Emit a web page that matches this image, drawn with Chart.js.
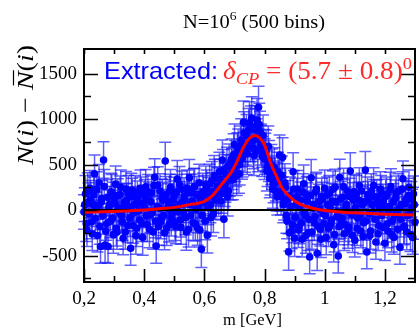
<!DOCTYPE html>
<html>
<head>
<meta charset="utf-8">
<script src="https://cdn.jsdelivr.net/npm/chart.js@4.4.0/dist/chart.umd.min.js"></script>
<style>
  html, body { margin:0; padding:0; background:#fff; }
  #wrap { width:419px; height:328px; }
</style>
</head>
<body>
<div id="wrap"><canvas id="chart"></canvas></div>
<script>
// ─── Data ────────────────────────────────────────────────────────────────────
// even bins
const massBins = [
  0.200,0.205,0.210,0.215,0.220,0.225,0.230,0.235,0.240,0.245,
  0.250,0.255,0.260,0.265,0.270,0.275,0.280,0.285,0.290,0.295,
  0.300,0.305,0.310,0.315,0.320,0.325,0.330,0.335,0.340,0.345,
  0.350,0.355,0.360,0.365,0.370,0.375,0.380,0.385,0.390,0.395,
  0.400,0.405,0.410,0.415,0.420,0.425,0.430,0.435,0.440,0.445,
  0.450,0.455,0.460,0.465,0.470,0.475,0.480,0.485,0.490,0.495,
  0.500,0.505,0.510,0.515,0.520,0.525,0.530,0.535,0.540,0.545,
  0.550,0.555,0.560,0.565,0.570,0.575,0.580,0.585,0.590,0.595,
  0.600,0.605,0.610,0.615,0.620,0.625,0.630,0.635,0.640,0.645,
  0.650,0.655,0.660,0.665,0.670,0.675,0.680,0.685,0.690,0.695,
  0.700,0.705,0.710,0.715,0.720,0.725,0.730,0.735,0.740,0.745,
  0.750,0.755,0.760,0.765,0.770,0.775,0.780,0.785,0.790,0.795,
  0.800,0.805,0.810,0.815,0.820,0.825,0.830,0.835,0.840,0.845,
  0.850,0.855,0.860,0.865,0.870,0.875,0.880,0.885,0.890,0.895,
  0.900,0.905,0.910,0.915,0.920,0.925,0.930,0.935,0.940,0.945,
  0.950,0.955,0.960,0.965,0.970,0.975,0.980,0.985,0.990,0.995,
  1.000,1.005,1.010,1.015,1.020,1.025,1.030,1.035,1.040,1.045,
  1.050,1.055,1.060,1.065,1.070,1.075,1.080,1.085,1.090,1.095,
  1.100,1.105,1.110,1.115,1.120,1.125,1.130,1.135,1.140,1.145,
  1.150,1.155,1.160,1.165,1.170,1.175,1.180,1.185,1.190,1.195,
  1.200,1.205,1.210,1.215,1.220,1.225,1.230,1.235,1.240,1.245,
  1.250,1.255,1.260,1.265,1.270,1.275,1.280,1.285,1.290,1.295,
  1.300
];
const diffCounts = [
  -20,180,-220,90,240,-130,60,400,10,-280,
  300,-400,130,550,-385,-150,-400,60,200,-90,
  120,285,-240,20,170,-60,-310,90,230,-170,
  40,-420,150,-30,200,-200,70,-110,180,-300,
  30,255,-160,110,-50,190,-240,360,-395,275,
  20,-130,140,-60,540,-200,90,210,-90,30,
  160,-180,340,60,-110,230,-30,120,-240,190,
  355,-60,100,250,-150,170,40,-220,-430,200,
  80,280,-275,150,60,320,-40,350,180,260,
  420,100,550,-100,300,470,210,380,560,330,
  720,480,620,400,700,560,965,640,820,700,
  955,915,760,600,880,990,1130,860,700,820,
  560,650,480,540,380,450,290,360,200,420,
  605,150,580,90,250,-120,-460,160,-230,420,
  -310,60,230,-180,110,-320,290,-60,170,-250,
  -515,355,20,-140,200,-475,90,-210,150,-40,
  240,-300,60,180,-160,100,-380,250,-70,-505,
  360,-120,140,-260,20,210,-190,430,-50,110,
  -330,180,-90,270,-230,60,-140,440,-460,120,
  -280,200,-20,150,-350,80,-170,230,-60,100,
  -365,170,-230,40,260,-120,-300,130,-20,210,
  -410,60,345,-180,120,-60,250,-270,30,180,
  -130
];
const diffErrors = [
  190,200,180,210,195,185,200,205,190,180,
  200,185,195,200,190,180,185,200,205,190,
  185,200,190,195,205,190,180,200,195,185,
  190,185,200,195,180,200,190,205,185,195,
  200,190,185,200,195,185,190,205,190,200,
  195,185,200,190,205,190,200,185,195,190,
  200,190,205,195,185,200,190,195,200,205,
  200,190,195,205,190,200,195,185,200,205,
  200,205,195,210,200,215,205,210,215,205,
  215,210,220,205,215,220,210,225,220,215,
  225,220,230,215,225,220,235,225,230,220,
  235,230,225,220,230,235,230,225,230,225,
  225,230,220,225,215,220,210,215,210,215,
  220,205,215,200,210,195,200,205,195,210,
  200,195,205,190,200,195,205,190,200,195,
  185,200,190,195,200,190,195,185,200,190,
  200,190,195,200,185,195,190,200,195,185,
  200,190,195,185,200,195,190,200,195,190,
  185,200,190,195,185,200,190,205,185,195,
  190,200,195,185,190,200,195,190,200,185,
  190,195,185,200,195,190,185,200,195,190,
  185,200,195,190,200,195,190,185,200,195,
  190
];
// odd bins (in between)
const massBinsB = [
  0.2025,0.2075,0.2125,0.2175,0.2225,0.2275,0.2325,0.2375,0.2425,0.2475,
  0.2525,0.2575,0.2625,0.2675,0.2725,0.2775,0.2825,0.2875,0.2925,0.2975,
  0.3025,0.3075,0.3125,0.3175,0.3225,0.3275,0.3325,0.3375,0.3425,0.3475,
  0.3525,0.3575,0.3625,0.3675,0.3725,0.3775,0.3825,0.3875,0.3925,0.3975,
  0.4025,0.4075,0.4125,0.4175,0.4225,0.4275,0.4325,0.4375,0.4425,0.4475,
  0.4525,0.4575,0.4625,0.4675,0.4725,0.4775,0.4825,0.4875,0.4925,0.4975,
  0.5025,0.5075,0.5125,0.5175,0.5225,0.5275,0.5325,0.5375,0.5425,0.5475,
  0.5525,0.5575,0.5625,0.5675,0.5725,0.5775,0.5825,0.5875,0.5925,0.5975,
  0.6025,0.6075,0.6125,0.6175,0.6225,0.6275,0.6325,0.6375,0.6425,0.6475,
  0.6525,0.6575,0.6625,0.6675,0.6725,0.6775,0.6825,0.6875,0.6925,0.6975,
  0.7025,0.7075,0.7125,0.7175,0.7225,0.7275,0.7325,0.7375,0.7425,0.7475,
  0.7525,0.7575,0.7625,0.7675,0.7725,0.7775,0.7825,0.7875,0.7925,0.7975,
  0.8025,0.8075,0.8125,0.8175,0.8225,0.8275,0.8325,0.8375,0.8425,0.8475,
  0.8525,0.8575,0.8625,0.8675,0.8725,0.8775,0.8825,0.8875,0.8925,0.8975,
  0.9025,0.9075,0.9125,0.9175,0.9225,0.9275,0.9325,0.9375,0.9425,0.9475,
  0.9525,0.9575,0.9625,0.9675,0.9725,0.9775,0.9825,0.9875,0.9925,0.9975,
  1.0025,1.0075,1.0125,1.0175,1.0225,1.0275,1.0325,1.0375,1.0425,1.0475,
  1.0525,1.0575,1.0625,1.0675,1.0725,1.0775,1.0825,1.0875,1.0925,1.0975,
  1.1025,1.1075,1.1125,1.1175,1.1225,1.1275,1.1325,1.1375,1.1425,1.1475,
  1.1525,1.1575,1.1625,1.1675,1.1725,1.1775,1.1825,1.1875,1.1925,1.1975,
  1.2025,1.2075,1.2125,1.2175,1.2225,1.2275,1.2325,1.2375,1.2425,1.2475,
  1.2525,1.2575,1.2625,1.2675,1.2725,1.2775,1.2825,1.2875,1.2925,1.2975
];
const diffCountsB = [
  60,-150,210,-40,120,-260,170,-90,230,50,
  -180,90,-60,260,-230,140,30,-120,190,-270,
  70,-200,160,-20,250,-130,40,-240,110,180,
  -90,220,-170,60,-280,130,-10,240,-150,80,
  150,-60,200,-210,90,-30,270,-120,40,-180,
  210,-80,110,-250,170,20,-160,250,-40,120,
  -130,200,-20,280,-190,90,150,-80,240,-210,
  60,190,-140,260,10,-200,300,120,-60,170,
  -120,230,40,290,-80,200,380,110,260,150,
  340,180,440,250,390,150,500,330,450,610,
  540,380,660,500,770,590,850,720,620,880,
  760,1010,680,920,780,650,940,720,590,660,
  620,430,700,350,500,230,470,310,150,330,
  200,380,60,300,-60,120,-250,40,-160,230,
  -80,150,-220,40,-140,200,-30,-280,100,-100,
  160,-240,60,-70,230,-180,10,-320,120,-150,
  -60,170,-200,40,-110,230,-270,90,-20,-180,
  120,-90,260,-160,60,-230,150,-30,-280,200,
  30,-200,110,-60,210,-290,90,-120,170,-40,
  -230,60,270,-100,130,-260,20,180,-190,50,
  150,-150,-20,220,-270,90,-60,190,-210,20,
  -100,230,-180,70,-240,160,-40,120,-300,60
];
const diffErrorsB = [
  185,195,200,190,205,185,195,200,190,195,
  195,190,205,185,200,195,190,185,200,205,
  190,195,185,200,190,205,195,190,185,200,
  200,185,195,190,205,190,185,200,195,190,
  185,200,190,205,195,190,200,185,195,205,
  190,200,195,185,200,205,190,195,185,200,
  205,190,195,200,185,195,205,190,200,195,
  195,205,190,200,195,185,205,200,190,210,
  205,210,200,215,205,210,220,210,215,220,
  220,215,225,210,220,215,225,220,225,230,
  225,220,230,225,235,225,230,225,230,235,
  230,235,225,230,225,230,235,225,220,225,
  225,220,225,215,220,210,215,210,205,210,
  210,215,200,210,195,205,200,195,200,205,
  195,200,190,205,195,200,190,195,200,190,
  200,190,195,200,185,195,190,200,185,195,
  190,195,200,185,195,200,190,195,185,200,
  195,190,200,185,195,190,200,195,185,190,
  195,190,200,185,195,190,185,200,195,190,
  200,185,195,190,200,185,195,200,190,195,
  190,200,185,195,190,200,195,185,190,200,
  195,190,200,185,195,190,200,195,185,190
];
// fitted curve, read at a few masses
const fitMass  = [0.2, 0.3, 0.4, 0.45, 0.5, 0.55, 0.6, 0.63, 0.66, 0.69, 0.71, 0.73, 0.75, 0.768, 0.785, 0.8, 0.82, 0.84, 0.86, 0.88, 0.9, 0.93, 0.96, 1.0, 1.05, 1.1, 1.2, 1.3];
const fitCurve = [-25, -15, 0, 15, 30, 60, 95, 170, 295, 420, 545, 690, 790, 820, 790, 715, 520, 370, 235, 160, 100, 50, 20, -5, -20, -30, -45, -55];
const zeroMass = [0.2, 1.3];
const zeroLine = [0, 0];

const xTicks      = [0.2, 0.4, 0.6, 0.8, 1.0, 1.2];
const xTickLabels = ['0,2', '0,4', '0,6', '0,8', '1', '1,2'];
const xMinor      = [0.3, 0.5, 0.7, 0.9, 1.1];
const yTicks      = [-500, 0, 500, 1000, 1500];
const yMinor      = [-750, -250, 250, 750, 1250];

const allMass   = massBins.concat(massBinsB);
const allCounts = diffCounts.concat(diffCountsB);
const allErrors = diffErrors.concat(diffErrorsB);

// ─── Helpers ─────────────────────────────────────────────────────────────────
const SERIF = '"Liberation Serif", "Times New Roman", serif';
const SANS  = '"Liberation Sans", Arial, sans-serif';

// draw a list of text runs, stretched to a target width
function drawRuns(ctx, runs, x0, y0, target) {
  let w = 0;
  runs.forEach(r => { ctx.font = r.f; r.w = ctx.measureText(r.t).width; w += r.w; });
  const sx = target ? target / w : 1;
  ctx.save();
  ctx.translate(x0, y0);
  ctx.scale(sx, 1);
  let x = 0;
  runs.forEach(r => {
    ctx.font = r.f;
    ctx.fillStyle = r.c || '#000';
    ctx.fillText(r.t, x, r.dy || 0);
    if (r.bar) {
      ctx.strokeStyle = r.c || '#000';
      ctx.lineWidth = 1.2;
      ctx.beginPath();
      ctx.moveTo(x + 4, -19.5);
      ctx.lineTo(x + r.w + 1, -19.5);
      ctx.stroke();
    }
    x += r.w;
  });
  ctx.restore();
  return w * sx;
}

// ─── Plugins ─────────────────────────────────────────────────────────────────
const errorBars = {
  id: 'errorBars',
  beforeDatasetsDraw(chart) {
    const { ctx, scales: { x, y } } = chart;
    ctx.save();
    ctx.strokeStyle = 'rgba(20,20,255,0.68)';
    ctx.lineWidth = 1.5;
    allMass.forEach((m, i) => {
      const px = x.getPixelForValue(m);
      const lo = y.getPixelForValue(allCounts[i] - allErrors[i]);
      const hi = y.getPixelForValue(allCounts[i] + allErrors[i]);
      ctx.beginPath();
      ctx.moveTo(px, lo); ctx.lineTo(px, hi);
      ctx.moveTo(px - 6, lo); ctx.lineTo(px + 6, lo);
      ctx.moveTo(px - 6, hi); ctx.lineTo(px + 6, hi);
      ctx.stroke();
    });
    ctx.restore();
  }
};

const frame = {
  id: 'frame',
  afterDatasetsDraw(chart) {
    const { ctx, chartArea: a, scales: { x, y } } = chart;
    ctx.save();
    ctx.strokeStyle = '#000';
    ctx.lineWidth = 1.6;
    ctx.beginPath();
    const hTick = (v, len) => {
      const py = Math.round(y.getPixelForValue(v)) + 0.5;
      ctx.moveTo(a.left, py);  ctx.lineTo(a.left + len, py);
      ctx.moveTo(a.right, py); ctx.lineTo(a.right - len, py);
    };
    const vTick = (v, len, top) => {
      const px = Math.round(x.getPixelForValue(v)) + 0.5;
      ctx.moveTo(px, a.bottom); ctx.lineTo(px, a.bottom - len);
      ctx.moveTo(px, a.top);    ctx.lineTo(px, a.top + top);
    };
    yTicks.forEach(v => hTick(v, 14));
    yMinor.forEach(v => hTick(v, 7));
    xTicks.forEach(v => vTick(v, 13, 5));
    xMinor.forEach(v => vTick(v, 6, 5));
    ctx.stroke();
    ctx.lineWidth = 2;
    ctx.strokeRect(a.left, a.top, a.right - a.left, a.bottom - a.top);
    ctx.restore();
  },
  afterDraw(chart) {
    const { ctx } = chart;
    ctx.save();
    ctx.textBaseline = 'alphabetic';
    // title
    drawRuns(ctx, [
      { t: 'N=10', f: '18px ' + SERIF },
      { t: '6', f: '12px ' + SERIF, dy: -8 },
      { t: ' (500 bins)', f: '18px ' + SERIF },
    ], 254 - 71, 28, 142);
    // x axis title
    drawRuns(ctx, [{ t: 'm [GeV]', f: '16px ' + SERIF }], 223, 325, 59);
    // y axis title, rotated
    ctx.save();
    ctx.translate(33, 165);
    ctx.rotate(-Math.PI / 2);
    const it = 'italic 24px ' + SERIF, rm = '24px ' + SERIF;
    drawRuns(ctx, [
      { t: 'N', f: it }, { t: '(', f: rm }, { t: 'i', f: it }, { t: ')', f: rm },
      { t: ' \u2212 ', f: rm },
      { t: 'N', f: it, bar: true }, { t: '(', f: rm }, { t: 'i', f: it }, { t: ')', f: rm },
    ], 0, 0, 120);
    ctx.restore();
    // annotation
    drawRuns(ctx, [{ t: 'Extracted:', f: '24px ' + SANS, c: '#0000ff' }], 104, 79, 114);
    const red = '#ff2a2a';
    drawRuns(ctx, [
      { t: '\u03b4', f: 'italic 25px ' + SERIF, c: red },
      { t: 'CP', f: 'italic 17px ' + SERIF, c: red, dy: 5 },
      { t: ' = (5.7 \u00b1 0.8)', f: '25px ' + SERIF, c: red },
      { t: '0', f: '17px ' + SERIF, c: red, dy: -10 },
    ], 223, 79, 189);
    ctx.restore();
  }
};

// ─── Chart ───────────────────────────────────────────────────────────────────
new Chart(document.getElementById('chart'), {
  type: 'scatter',
  data: {
    datasets: [
      { label: 'fit', type: 'line', order: 1,
        data: fitMass.map((m, i) => ({ x: m, y: fitCurve[i] })),
        borderColor: '#ff0000', borderWidth: 3, pointRadius: 0,
        cubicInterpolationMode: 'monotone', fill: false },
      { label: 'zero', type: 'line', order: 2,
        data: zeroMass.map((m, i) => ({ x: m, y: zeroLine[i] })),
        borderColor: '#000', borderWidth: 2, pointRadius: 0 },
      { label: 'data', order: 3, clip: false,
        data: allMass.map((m, i) => ({ x: m, y: allCounts[i] })),
        backgroundColor: '#0000ff', borderWidth: 0, pointRadius: 3.8 },
    ]
  },
  options: {
    responsive: true, maintainAspectRatio: false, animation: false,
    layout: { padding: { top: 49, right: 1, left: 0, bottom: 0 } },
    plugins: { legend: { display: false }, tooltip: { enabled: false } },
    scales: {
      x: {
        type: 'linear', min: 0.2, max: 1.3,
        grid: { display: false, drawTicks: false }, border: { display: false },
        afterBuildTicks: s => { s.ticks = xTicks.map(v => ({ value: v })); },
        afterFit: s => { s.height = 46; },
        ticks: { autoSkip: false, maxRotation: 0, padding: 6, color: '#000',
          font: { family: SERIF, size: 19 },
          callback: v => xTickLabels[xTicks.findIndex(t => Math.abs(t - v) < 1e-6)] }
      },
      y: {
        type: 'linear', min: -790, max: 1770,
        grid: { display: false, drawTicks: false }, border: { display: false },
        afterBuildTicks: s => { s.ticks = yTicks.map(v => ({ value: v })); },
        afterFit: s => { s.width = 84; },
        ticks: { autoSkip: false, padding: 7, color: '#000',
          font: { family: SERIF, size: 19 },
          callback: v => String(v) }
      }
    }
  },
  plugins: [errorBars, frame]
});
</script>
</body>
</html>
